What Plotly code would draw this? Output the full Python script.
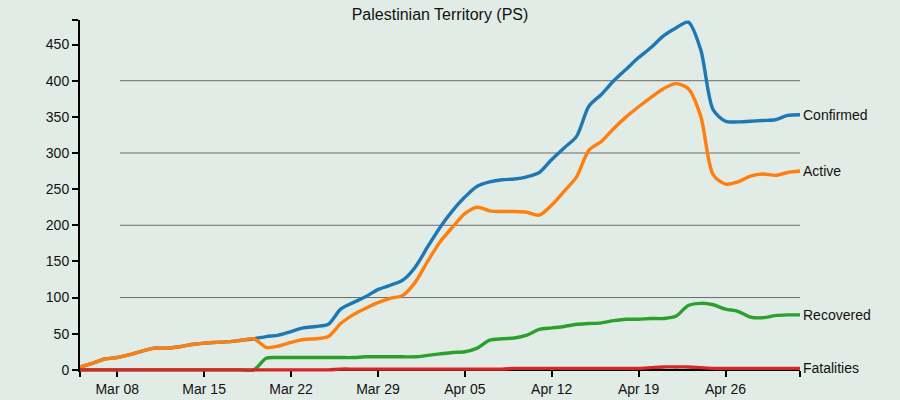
import plotly.graph_objects as go
import pandas as pd

# daily values, Mar 05 .. May 02 2020
dates = pd.date_range(start='2020-03-05', end='2020-05-02', freq='D')

confirmed = [4, 9, 15, 17, 21, 26, 30, 30, 32, 35,
             37, 38, 39, 41, 43, 46, 48, 53, 58, 60,
             63, 84, 93, 101, 111, 117, 124, 142, 170, 197,
             220, 239, 254, 260, 263, 264, 267, 273, 291, 307,
             323, 365, 381, 400, 416, 432, 446, 462, 473, 481,
             443, 360, 344, 343, 344, 345, 346, 352, 353]

active = [4, 9, 15, 17, 21, 26, 30, 30, 32, 35,
          37, 38, 39, 41, 43, 31, 33, 38, 42, 43,
          46, 64, 76, 85, 93, 99, 103, 121, 150, 177,
          197, 216, 225, 220, 219, 219, 218, 214, 228, 247,
          267, 304, 316, 334, 350, 364, 377, 389, 396, 389,
          351, 270, 257, 260, 268, 271, 269, 273, 275]

recovered = [0, 0, 0, 0, 0, 0, 0, 0, 0, 0,
             0, 0, 0, 0, 0, 16, 17, 17, 17, 17,
             17, 17, 17, 18, 18, 18, 18, 18, 20, 22,
             24, 25, 30, 41, 43, 44, 48, 56, 58, 60,
             63, 64, 65, 68, 70, 70, 71, 71, 74, 89,
             92, 90, 84, 81, 73, 72, 75, 76, 76]

fatalities = [0, 0, 0, 0, 0, 0, 0, 0, 0, 0,
              0, 0, 0, 0, 0, 0, 0, 0, 0, 0,
              0, 1, 1, 1, 1, 1, 1, 1, 1, 1,
              1, 1, 1, 1, 1, 2, 2, 2, 2, 2,
              2, 2, 2, 2, 2, 2, 3, 4, 4, 4,
              3, 2, 2, 2, 2, 2, 2, 2, 2]

series = [('Confirmed', confirmed, '#1f77b4'),
          ('Active', active, '#ff7f0e'),
          ('Recovered', recovered, '#2ca02c'),
          ('Fatalities', fatalities, '#d62728')]

y_ticks = [0, 50, 100, 150, 200, 250, 300, 350, 400, 450]
grid_vals = [100, 200, 300, 400]
x_ticks = ['2020-03-05', '2020-03-08', '2020-03-15', '2020-03-22', '2020-03-29',
           '2020-04-05', '2020-04-12', '2020-04-19', '2020-04-26', '2020-05-02']
x_labels = ['', 'Mar 08', 'Mar 15', 'Mar 22', 'Mar 29',
            'Apr 05', 'Apr 12', 'Apr 19', 'Apr 26', '']

y_min, y_max = -3, 484
bg = '#e2ece6'
font = 'Liberation Sans, Arial, sans-serif'

fig = go.Figure()
for name, vals, color in series:
    fig.add_trace(go.Scatter(x=dates, y=vals, name=name, mode='lines',
                             line=dict(color=color, width=3.4, shape='spline', smoothing=0.8)))

# labels at line ends
for name, vals, color in series:
    fig.add_annotation(x=dates[-1], y=vals[-1], text=name, showarrow=False,
                       xanchor='left', yanchor='middle', xshift=1,
                       font=dict(size=14, color='#111', family=font))

# grid lines (start a bit right of the axis, like the original)
for g in grid_vals:
    fig.add_shape(type='line', xref='paper', yref='y', x0=40 / 720, x1=1, y0=g, y1=g,
                  line=dict(color='#6b6b6b', width=1), layer='below')

fig.update_layout(
    width=900, height=400,
    margin=dict(l=80, r=100, t=20, b=28, autoexpand=False),
    paper_bgcolor=bg, plot_bgcolor=bg,
    showlegend=False,
    font=dict(family=font, size=14, color='#111'),
    title=dict(text='Palestinian Territory (PS)', x=440 / 900, xanchor='center',
               y=1 - 14 / 400, yanchor='middle', font=dict(size=16, color='#111')),
)
fig.update_xaxes(range=[dates[0], dates[-1]], tickvals=x_ticks, ticktext=x_labels,
                 showgrid=False, zeroline=False, showline=True, linecolor='black', linewidth=2,
                 ticks='outside', ticklen=6, tickwidth=1.5, tickcolor='black',
                 anchor='free', position=(0 - y_min) / (y_max - y_min), layer='below traces',
                 automargin=False)
fig.update_yaxes(range=[y_min, y_max], tickvals=y_ticks + [y_max],
                 ticktext=[str(v) for v in y_ticks] + [''],
                 showgrid=False, zeroline=False, showline=True, linecolor='black', linewidth=2,
                 ticks='outside', ticklen=6, tickwidth=1.5, tickcolor='black',
                 layer='below traces', automargin=False)

# page has a default body margin, drop it so the chart sits at 0,0
fig.write_html("out.html", config={'displayModeBar': False},
               post_script="document.body.style.margin='0px';")
